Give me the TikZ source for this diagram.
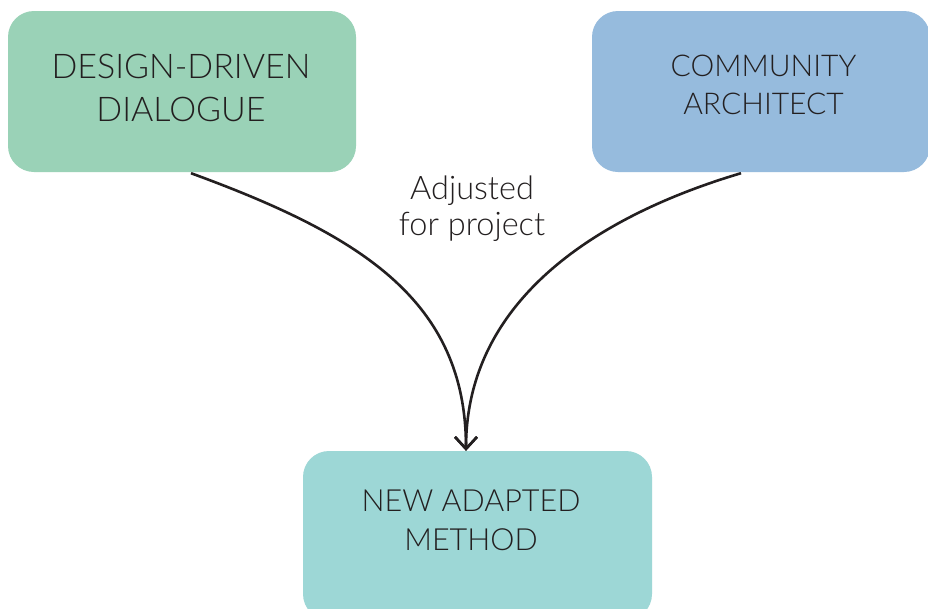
\documentclass[tikz,border=0pt]{standalone}
\usepackage{fontspec}
\setmainfont{Lato}[UprightFont={* Light}]
\usetikzlibrary{arrows.meta,calc}
\definecolor{boxgreen}{HTML}{9AD2B7}
\definecolor{boxblue}{HTML}{96BBDD}
\definecolor{boxteal}{HTML}{9DD7D6}
\definecolor{ink}{HTML}{231F20}
\begin{document}
\begin{tikzpicture}[x=1pt,y=-1pt,
  box/.style={rectangle, rounded corners=26pt, draw=none, inner sep=0pt},
  boxtext/.style={text=ink, align=center, inner sep=0pt},
  flow/.style={draw=ink, line width=2.6pt, -{Straight Barb[length=12pt,width=22pt]}}]
\useasboundingbox (0,0) rectangle (928,608);
\clip (0,0) rectangle (928,608);
\fill[white] (0,0) rectangle (928,608);
% boxes
\node[box, fill=boxgreen, minimum width=348pt, minimum height=161pt] (dd) at (182,91.5) {};
\node[box, fill=boxblue, minimum width=338pt, minimum height=161pt] (ca) at (761,91.5) {};
\node[box, fill=boxteal, minimum width=349pt, minimum height=169pt] (nm) at (477.5,535.5) {};
% texts
\node[boxtext, font=\fontsize{34}{43}\selectfont] (ddtext) at (181,88) {DESIGN-DRIVEN\\DIALOGUE};
\node[boxtext, font=\fontsize{30}{38}\selectfont] (catext) at (763.5,85) {COMMUNITY\\ARCHITECT};
\node[boxtext, font=\fontsize{30.5}{39}\selectfont] (nmtext) at (471,520.5) {NEW ADAPTED\\METHOD};
\node[boxtext, font=\fontsize{32.5}{36}\selectfont] (adj) at (472,209) {Adjusted\\for project};
% connectors
\draw[flow] ($(dd.south)+(9,1)$) .. controls (360,235) and (466,300) .. ($(nm.north)+(-11.5,0)$);
\draw[flow] ($(ca.south)+(-20,1)$) .. controls (597,216) and (466,300) .. ($(nm.north)+(-11.5,0)$);
\end{tikzpicture}
\end{document}
